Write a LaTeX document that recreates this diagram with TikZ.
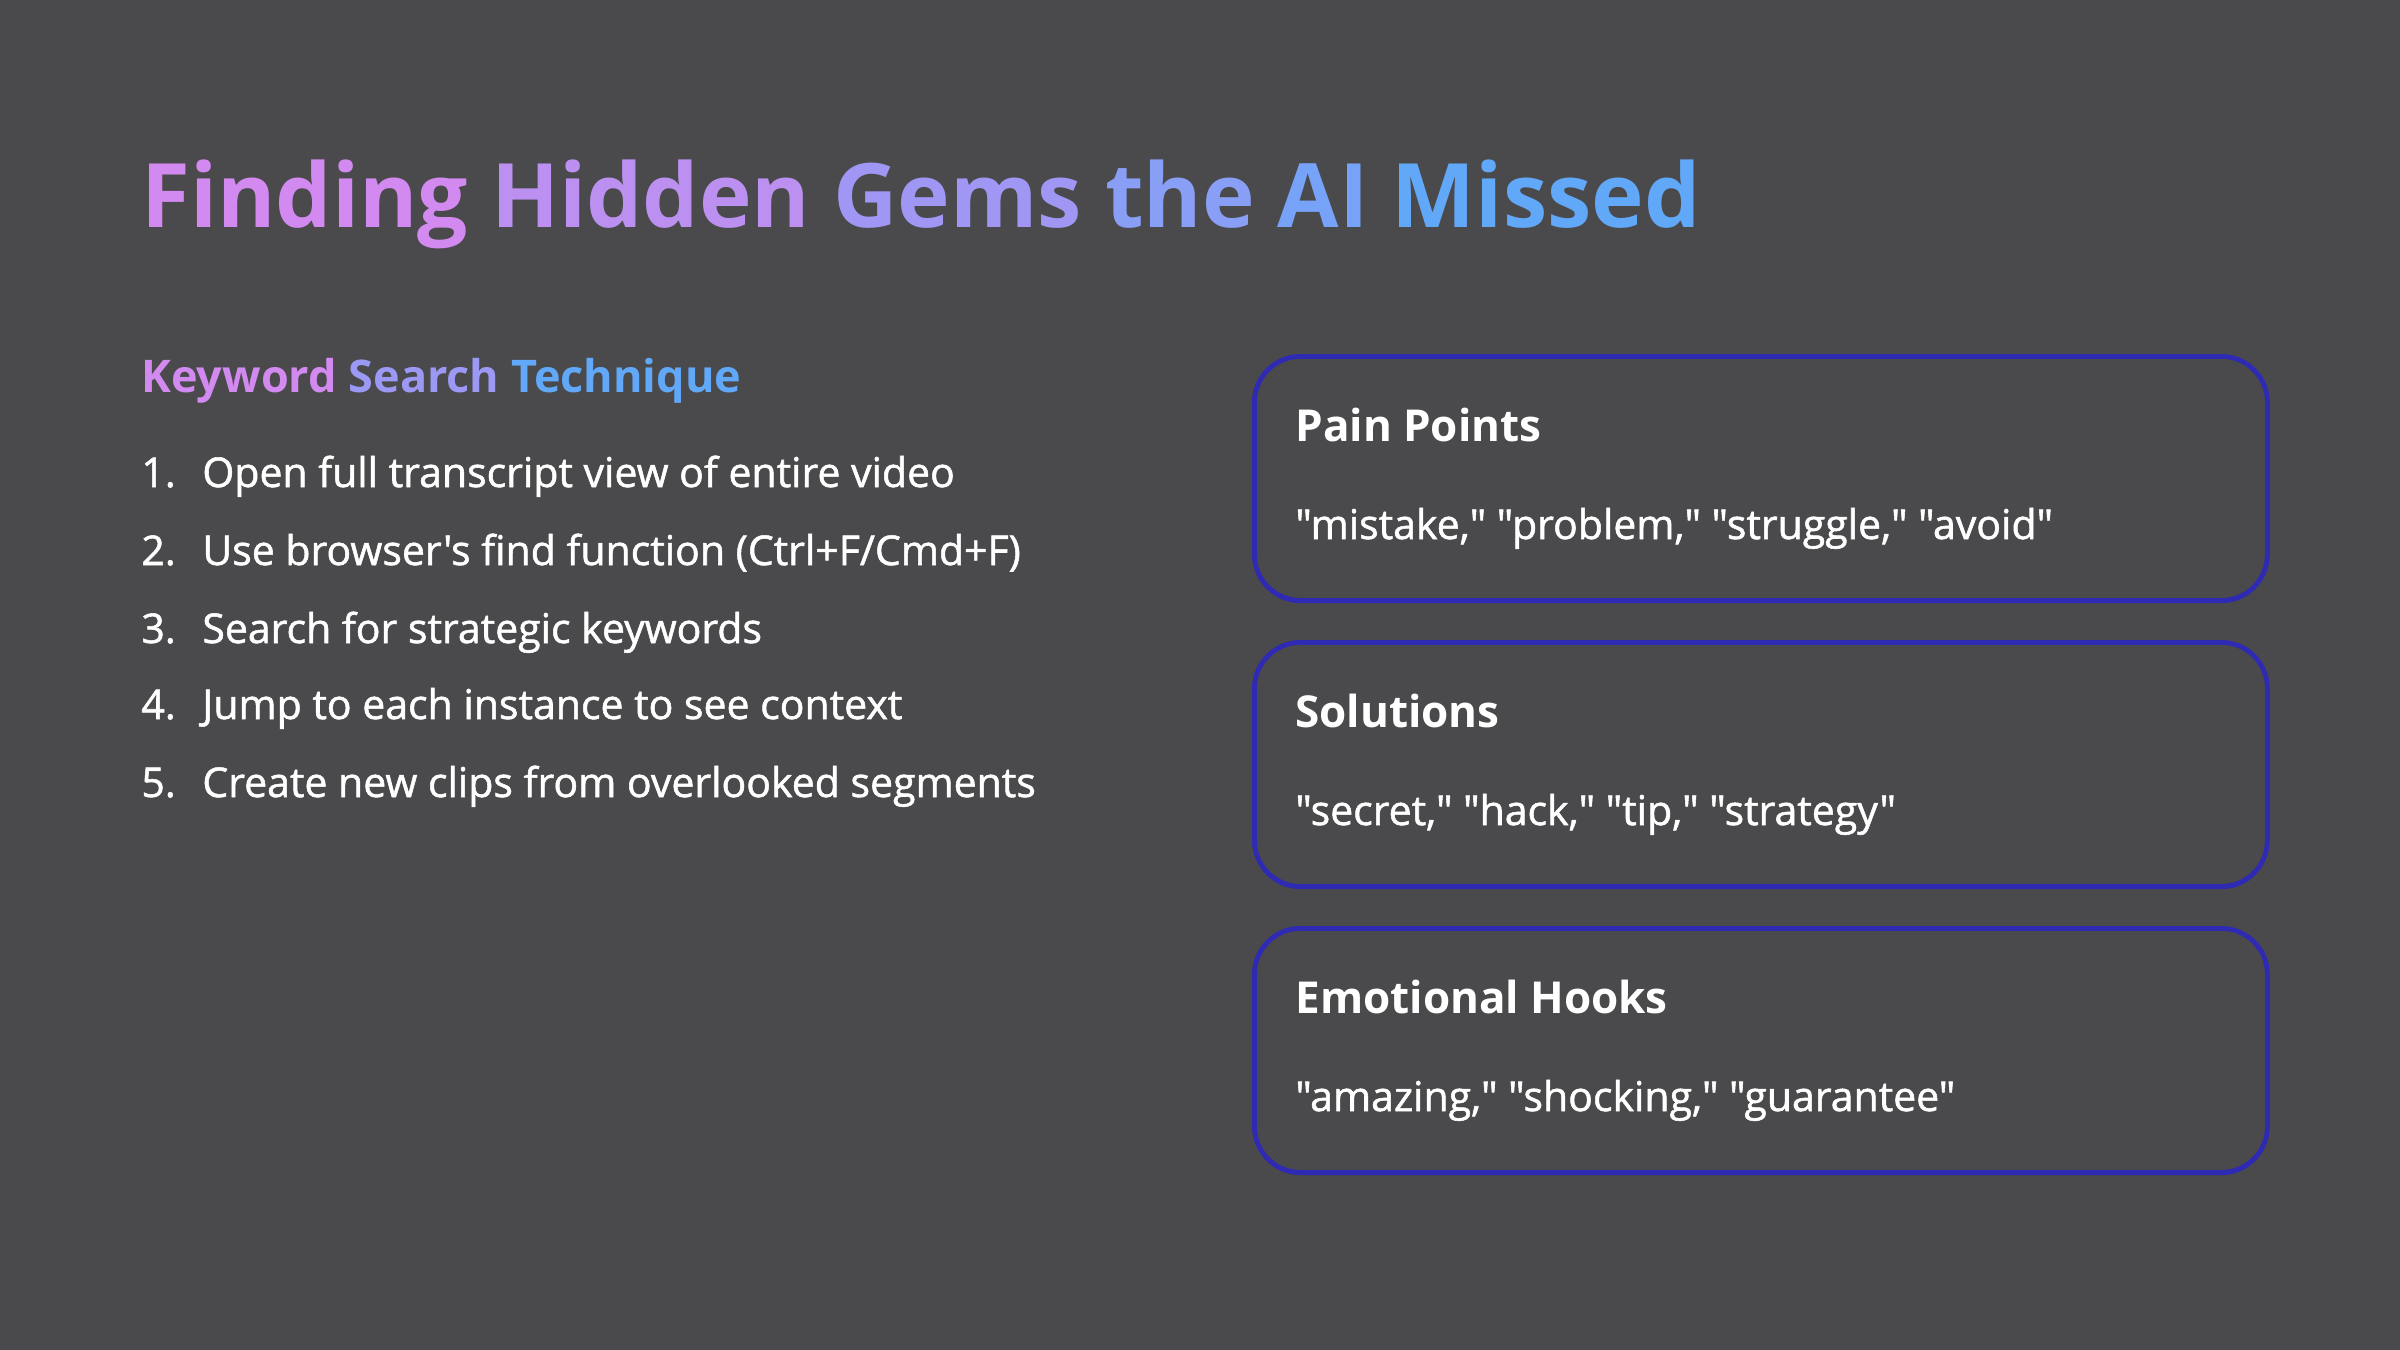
\documentclass[tikz,border=0pt]{standalone}
\usepackage{fontspec}
\setmainfont{Open Sans}
\newfontfamily\medfont[FakeBold=1.3]{Open Sans}
\usetikzlibrary{positioning}
\definecolor{bgcol}{HTML}{4A494B}
\definecolor{gemA}{HTML}{D38AF0}
\definecolor{gemB}{HTML}{62A8F8}
\definecolor{framecol}{HTML}{2E2AB4}
\newcommand{\dq}{\symbol{34}}
\tikzset{
  stepitem/.style={anchor=base west, text=white, font=\fontsize{20.5}{24}\medfont, inner sep=0pt},
  cardbox/.style={draw=framecol, fill=bgcol, line width=2.4pt, rounded corners=23pt, minimum width=506.5pt, minimum height=122pt, anchor=north west, inner sep=0pt},
  cardhead/.style={anchor=base west, text=white, font=\fontsize{22}{26}\selectfont\bfseries, inner sep=0pt},
  cardtext/.style={anchor=base west, text=white, font=\fontsize{20.5}{24}\medfont, inner sep=0pt}
}
\begin{document}
\begin{tikzpicture}[x=0.5pt, y=-0.5pt]
    \fill[bgcol] (0,0) rectangle (2400,1350);
    \useasboundingbox (0,0) rectangle (2400,1350);

    % title, coloured word by word
    \node[anchor=base west, inner sep=0pt, font=\fontsize{44.5}{52}\selectfont\bfseries] (title) at (141,227)
        {\textcolor{gemA}{Finding} \textcolor{gemA!80!gemB}{Hidden} \textcolor{gemA!55!gemB}{Gems} \textcolor{gemA!35!gemB}{the} \textcolor{gemA!18!gemB}{AI} \textcolor{gemB}{Missed}};

    \node[anchor=base west, inner sep=0pt, font=\fontsize{22.5}{26}\selectfont\bfseries] (subtitle) at (141,392)
        {\textcolor{gemA}{Keyword} \textcolor{gemA!50!gemB}{Search} \textcolor{gemB}{Technique}};

    % numbered steps
    \foreach \n/\y/\txt in {1/487/{Open full transcript view of entire video},
                            2/565/{Use browser's find function (Ctrl+F/Cmd+F)},
                            3/643/{Search for strategic keywords},
                            4/719/{Jump to each instance to see context},
                            5/797/{Create new clips from overlooked segments}} {
        \node[stepitem] (num\n) at (141,\y) {\n.};
        \node[stepitem] (step\n) at (202,\y) {\txt};
    }

    % keyword cards
    \foreach \k/\y/\head/\body in {pain/354/Pain Points/{\dq mistake,\dq{} \dq problem,\dq{} \dq struggle,\dq{} \dq avoid\dq},
                                   sol/640/Solutions/{\dq secret,\dq{} \dq hack,\dq{} \dq tip,\dq{} \dq strategy\dq},
                                   hook/926/Emotional Hooks/{\dq amazing,\dq{} \dq shocking,\dq{} \dq guarantee\dq}} {
        \fill[framecol, rounded corners=23pt] (1254,\y+4) rectangle (2268,\y+249);
        \node[cardbox] (\k) at (1252,\y) {};
        \node[cardhead] (\k head) at (1295,\y+87) {\head};
        \node[cardtext] (\k text) at (1295,\y+185) {\body};
    }
\end{tikzpicture}
\end{document}
